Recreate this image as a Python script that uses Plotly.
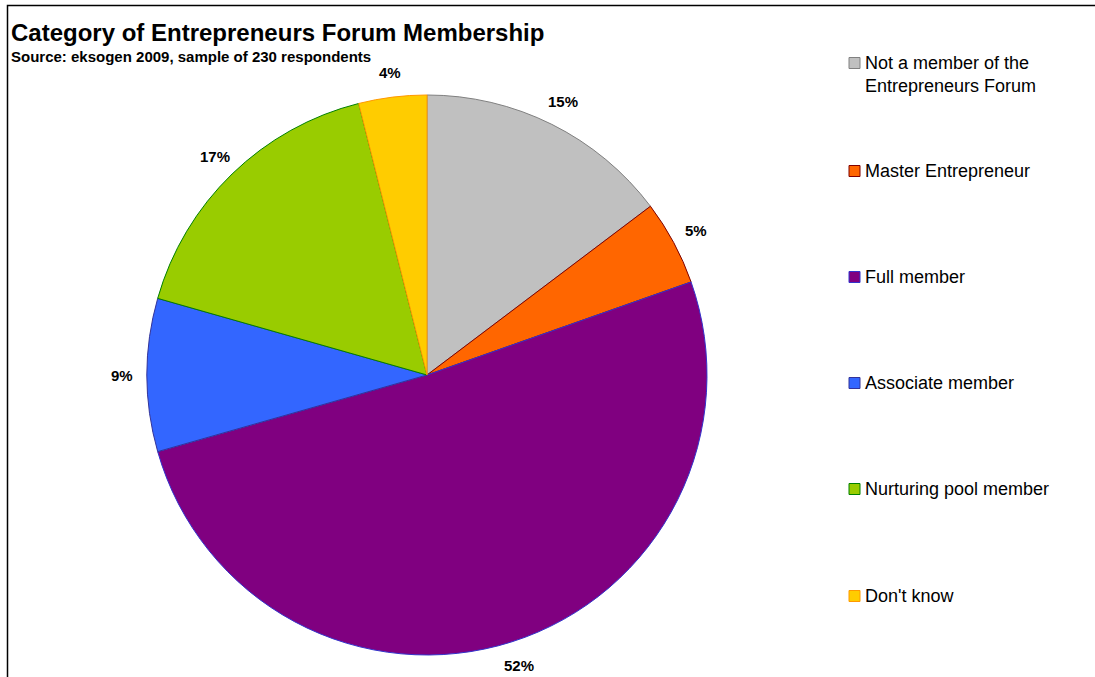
import math
import plotly.graph_objects as go

# Survey categories (percent of respondents, as reported)
categories = [
    "Not a member of the<br>Entrepreneurs Forum",
    "Master Entrepreneur",
    "Full member",
    "Associate member",
    "Nurturing pool member",
    "Don't know",
]
shares = [15, 5, 52, 9, 17, 4]

fill_colors = ["#C0C0C0", "#FF6600", "#800080", "#3366FF", "#99CC00", "#FFCC00"]
edge_colors = ["#808080", "#800000", "#3333CC", "#333399", "#008000", "#FF9900"]

W, H = 1095, 677
FONT = "Liberation Sans, Arial, sans-serif"

# pie geometry in pixels
CX, CY, R = 427, 375, 280
LABEL_R = R + 25


def px_x(x):
    return x / W


def px_y(y):
    return 1 - y / H


fig = go.Figure()
fig.add_trace(go.Pie(
    labels=categories,
    values=shares,
    sort=False,
    direction="clockwise",
    rotation=0,
    marker=dict(colors=fill_colors, line=dict(color=edge_colors, width=1)),
    textinfo="none",
    hoverinfo="label+value",
    showlegend=False,
    domain=dict(x=[px_x(CX - R), px_x(CX + R)], y=[px_y(CY + R), px_y(CY - R)]),
))

shapes = [
    # outer frame of the chart
    dict(type="rect", xref="paper", yref="paper",
         x0=px_x(7.5), x1=1.02, y0=-0.02, y1=px_y(5.5),
         line=dict(color="#000000", width=1.5), fillcolor="rgba(0,0,0,0)"),
]
annotations = [
    dict(text="<b>Category of Entrepreneurs Forum Membership</b>",
         x=px_x(9), y=px_y(33), xref="paper", yref="paper",
         xanchor="left", yanchor="middle", showarrow=False,
         font=dict(family=FONT, size=24, color="#000000")),
    dict(text="<b>Source: eksogen 2009, sample of 230 respondents</b>",
         x=px_x(9), y=px_y(56), xref="paper", yref="paper",
         xanchor="left", yanchor="middle", showarrow=False,
         font=dict(family=FONT, size=15, color="#000000")),
]

# Percent labels just outside each slice, at the slice's mid angle
total = sum(shares)
cum = 0.0
for v in shares:
    mid = (cum + v / 2) / total * 2 * math.pi
    cum += v
    lx = CX + LABEL_R * math.sin(mid)
    ly = CY - LABEL_R * math.cos(mid)
    annotations.append(dict(text=f"<b>{v}%</b>", x=px_x(lx), y=px_y(ly),
                            xref="paper", yref="paper", xanchor="center",
                            yanchor="middle", showarrow=False,
                            font=dict(family=FONT, size=15, color="#000000")))

# Legend entries: colour key plus label, one row per category
legend_rows = [63, 171, 277, 383, 489, 596]
for name, fc, ec, yc in zip(categories, fill_colors, edge_colors, legend_rows):
    shapes.append(dict(type="rect", xref="paper", yref="paper",
                       x0=px_x(849), x1=px_x(860), y0=px_y(yc + 5.5), y1=px_y(yc - 5.5),
                       fillcolor=fc, line=dict(color=ec, width=1)))
    multi = "<br>" in name
    annotations.append(dict(text=name, x=px_x(863), y=px_y(yc - 12 if multi else yc),
                            xref="paper", yref="paper", xanchor="left",
                            yanchor="top" if multi else "middle", align="left",
                            showarrow=False,
                            font=dict(family=FONT, size=18, color="#000000")))

fig.update_layout(
    width=W, height=H,
    margin=dict(l=0, r=0, t=0, b=0),
    paper_bgcolor="#FFFFFF",
    plot_bgcolor="#FFFFFF",
    shapes=shapes,
    annotations=annotations,
)

fig.write_html("out.html")
